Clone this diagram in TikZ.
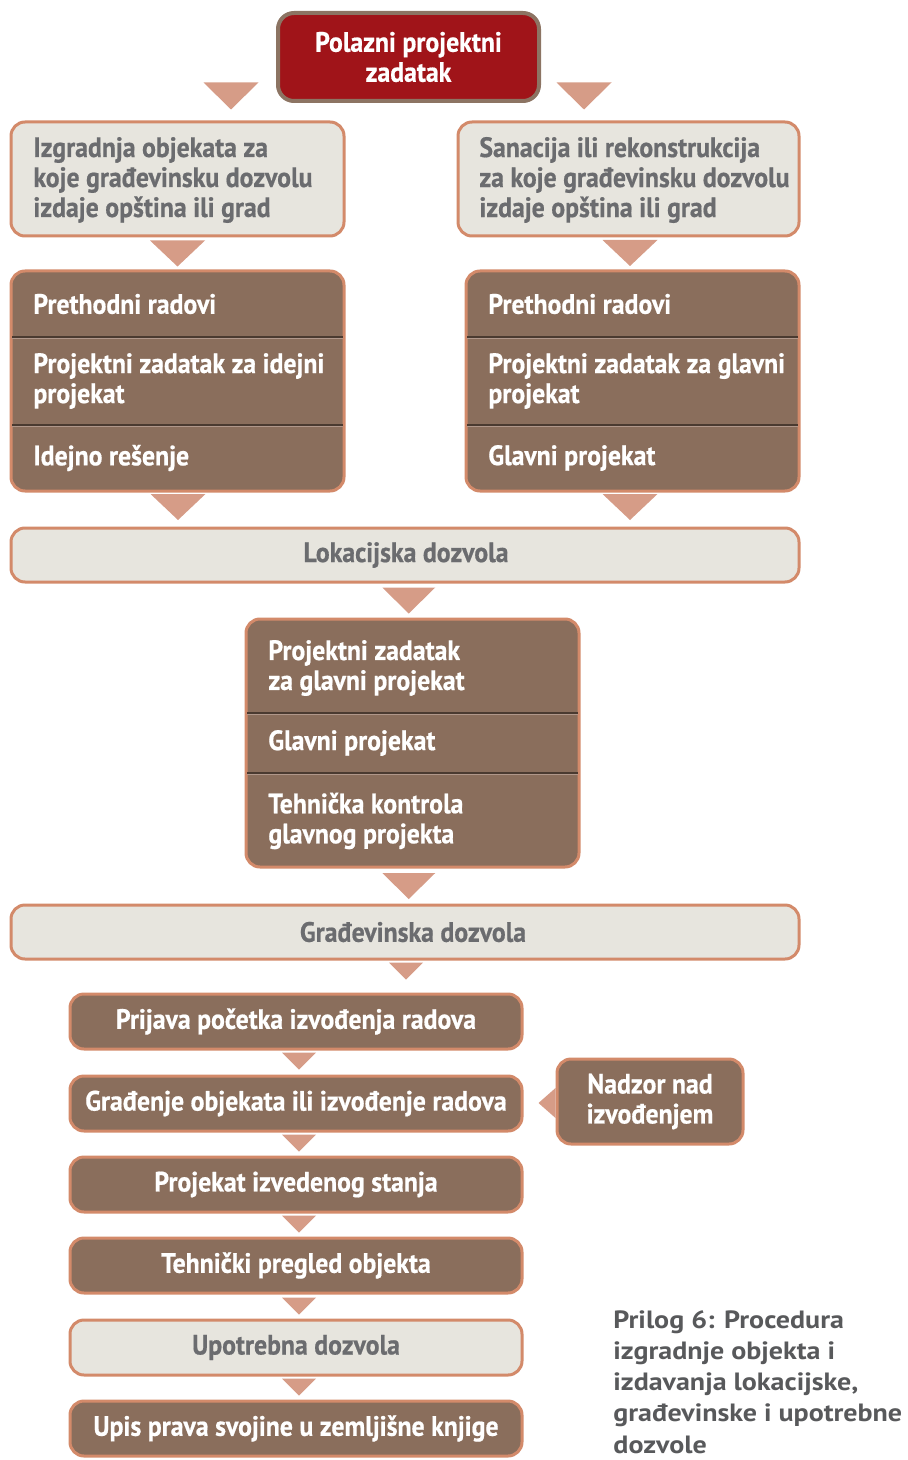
\documentclass[tikz,border=0pt]{standalone}
\usepackage{fontspec}
\setmainfont{PT Sans}
\newfontfamily\boxfont[FakeStretch=0.92, FakeBold=0.6]{PT Sans}
\newfontfamily\capfont[FakeStretch=1.12]{PT Sans}
\usetikzlibrary{positioning, calc, fit}

\definecolor{claret}{HTML}{A01419}
\definecolor{claretrim}{HTML}{8C7463}
\definecolor{earth}{HTML}{8A6E5C}
\definecolor{pale}{HTML}{E7E5DE}
\definecolor{rim}{HTML}{D38A6A}
\definecolor{dropfill}{HTML}{D69C87}
\definecolor{ink}{HTML}{6B6C6F}
\definecolor{capink}{HTML}{58595B}
\definecolor{sepdark}{HTML}{4A3A30}
\definecolor{seplight}{HTML}{B0978A}

\tikzset{
  box/.style={rounded corners=7pt, line width=1.5pt, draw=rim, inner sep=0pt},
  palebox/.style={box, fill=pale},
  earthbox/.style={box, fill=earth},
  startbox/.style={box, fill=claret, draw=claretrim, line width=2pt, rounded corners=8pt},
  label/.style={font=\boxfont\bfseries\fontsize{14}{15}\selectfont, inner sep=0pt, align=left},
  whitelabel/.style={label, text=white},
  greylabel/.style={label, text=ink},
  sepline/.style={sepdark, line width=0.7pt},
  drop/.style={fill=dropfill}
}
% triangle pointing down, centred on #1
\newcommand{\dropdown}[3]{\fill[drop] ($#1+(-#2/2,-#3/2)$) -- ++(#2,0) -- ++(-#2/2,#3) -- cycle;}

\begin{document}
\begin{tikzpicture}[x=0.5pt, y=-0.5pt]
\useasboundingbox (0,0) rectangle (907,1460);

% start
\node[startbox, fit={(278,13) (539,101)}] (start) {};
\node[whitelabel, align=center] (startt) at (start.center) {Polazni projektni\\zadatak};
\dropdown{(231,96)}{55}{27}
\dropdown{(584,96)}{55}{27}

% left branch
\node[palebox, fit={(11,122) (344,236)}] (build) {};
\node[greylabel, anchor=west] (buildt) at (33,180) {Izgradnja objekata za\\koje građevinsku dozvolu\\izdaje opština ili grad};
\node[earthbox, fit={(11,271) (344,491)}] (lwork) {};
\draw[sepline] (12,337) -- (343,337);
\draw[sepline] (12,425) -- (343,425);
\draw[seplight, line width=0.4pt] (12,338.5) -- (343,338.5);
\draw[seplight, line width=0.4pt] (12,426.5) -- (343,426.5);
\node[whitelabel, anchor=west] (lprev) at (33,304) {Prethodni radovi};
\node[whitelabel, anchor=west] (ltask) at (33,381) {Projektni zadatak za idejni\\projekat};
\node[whitelabel, anchor=west] (lidea) at (33,458) {Idejno rešenje};
\dropdown{($(build.south)!.5!(lwork.north)$)}{55}{26}

% right branch
\node[palebox, fit={(458,122) (799,236)}] (repair) {};
\node[greylabel, anchor=west] (repairt) at (479,180) {Sanacija ili rekonstrukcija\\za koje građevinsku dozvolu\\izdaje opština ili grad};
\node[earthbox, fit={(466,271) (799,491)}] (rwork) {};
\draw[sepline] (467,337) -- (798,337);
\draw[sepline] (467,425) -- (798,425);
\draw[seplight, line width=0.4pt] (467,338.5) -- (798,338.5);
\draw[seplight, line width=0.4pt] (467,426.5) -- (798,426.5);
\node[whitelabel, anchor=west] (rprev) at (488,304) {Prethodni radovi};
\node[whitelabel, anchor=west] (rtask) at (488,381) {Projektni zadatak za glavni\\projekat};
\node[whitelabel, anchor=west] (rmain) at (488,458) {Glavni projekat};
\dropdown{(630,253)}{55}{26}

% location permit
\node[palebox, fit={(11,528) (799,582)}] (loc) {};
\node[greylabel] (loct) at (406,555) {Lokacijska dozvola};
\dropdown{(178,507)}{55}{26}
\dropdown{(630,507)}{55}{26}

% main design
\node[earthbox, fit={(246,619) (579,867)}] (design) {};
\dropdown{($(loc.south)!.5!(design.north)$)}{53}{26}
\draw[sepline] (247,713) -- (578,713);
\draw[sepline] (247,773) -- (578,773);
\draw[seplight, line width=0.4pt] (247,714.5) -- (578,714.5);
\draw[seplight, line width=0.4pt] (247,774.5) -- (578,774.5);
\node[whitelabel, anchor=west] (dtask) at (268,668) {Projektni zadatak\\za glavni projekat};
\node[whitelabel, anchor=west] (dmain) at (268,743) {Glavni projekat};
\node[whitelabel, anchor=west] (dcheck) at (268,821) {Tehnička kontrola\\glavnog projekta};

% building permit
\node[palebox, fit={(11,905) (799,959)}] (perm) {};
\node[greylabel] (permt) at (413,932) {Građevinska dozvola};
\dropdown{($(design.south)!.5!(perm.north)$)}{53}{26}

% works
\node[earthbox, fit={(70,994) (522,1049)}] (notice) {};
\node[whitelabel] at (notice.center) {Prijava početka izvođenja radova};
\node[earthbox, fit={(70,1076) (522,1131)}] (works) {};
\node[whitelabel] at (works.center) {Građenje objekata ili izvođenje radova};
\node[earthbox, fit={(70,1157) (522,1212)}] (asbuilt) {};
\node[whitelabel] at (asbuilt.center) {Projekat izvedenog stanja};
\node[earthbox, fit={(70,1238) (522,1293)}] (inspect) {};
\node[whitelabel] at (inspect.center) {Tehnički pregled objekta};
\node[palebox, fit={(70,1320) (522,1375)}] (use) {};
\node[greylabel] at (use.center) {Upotrebna dozvola};
\node[earthbox, fit={(70,1401) (522,1456)}] (deed) {};
\node[whitelabel] at (deed.center) {Upis prava svojine u zemljišne knjige};
\node[earthbox, fit={(557,1059) (743,1144)}] (super) {};
\node[whitelabel, align=center] at (super.center) {Nadzor nad\\izvođenjem};

\dropdown{(406,971)}{34}{17}
\dropdown{(299,1061)}{34}{17}
\dropdown{(299,1143)}{34}{17}
\dropdown{(299,1224)}{34}{17}
\dropdown{(299,1306)}{34}{17}
\dropdown{(299,1387)}{34}{17}
\fill[drop] (super.west |- 0,1088) -- ++(0,30) -- ++(-17,-15) -- cycle;

% caption
\node[anchor=north west, font=\capfont\bfseries\fontsize{12.5}{15.6}\selectfont, text=capink, align=left, inner sep=0pt] (cap) at (613,1310) {Prilog 6: Procedura\\izgradnje objekta i\\izdavanja lokacijske,\\građevinske i upotrebne\\dozvole};
\end{tikzpicture}
\end{document}
